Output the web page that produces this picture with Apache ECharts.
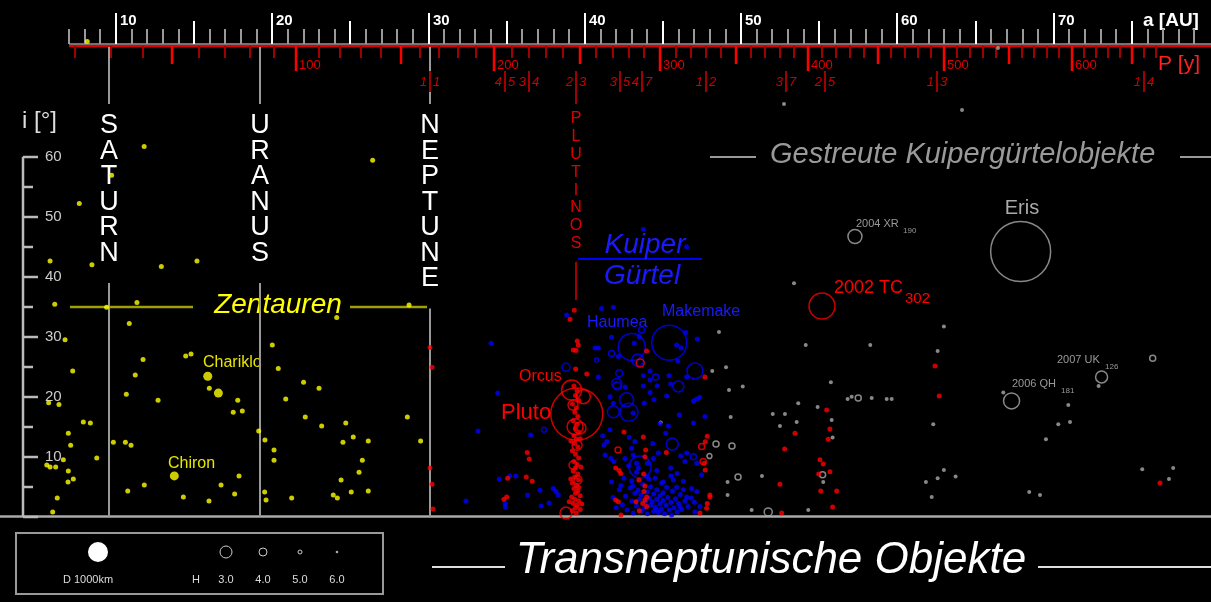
<!DOCTYPE html>
<html>
<head>
<meta charset="utf-8">
<title>Transneptunische Objekte</title>
<script src="https://cdn.jsdelivr.net/npm/echarts@6/dist/echarts.min.js"></script>
<style>
  html, body { margin: 0; padding: 0; background: #000; }
  #chart { width: 1211px; height: 602px; }
</style>
</head>
<body>
<div id="chart"></div>
<script>
// ---- Achsen ----
const aLabels = [10, 20, 30, 40, 50, 60, 70];
const periodLabels = [100, 200, 300, 400, 500, 600];
const iLabels = [10, 20, 30, 40, 50, 60];
const planets = [['SATURN', 9.54], ['URANUS', 19.19], ['NEPTUNE', 30.07]];
const aNeptune = 30.07;
// Bahnresonanzen mit Neptun  p|q
const resonances = [[1, 1], [4, 5], [3, 4], [2, 3], [3, 5], [4, 7], [1, 2], [3, 7], [2, 5], [1, 3], [1, 4]];

// ---- Objekte: [a (AE), i (Grad)] ----
const centaurs = [
  [11.8, 61.7], [26.42, 59.4], [9.72, 56.9], [7.65, 52.2], [5.78, 42.6], [8.46, 42.0], [12.9, 41.7], [15.18, 42.6],
  [6.08, 35.4], [9.40, 34.9], [11.34, 35.7], [24.12, 33.2], [28.75, 35.3], [10.85, 32.2], [6.74, 29.5], [20.0, 28.6],
  [14.46, 26.8], [14.8, 27.1], [11.73, 26.2], [20.38, 24.7], [7.23, 24.3], [11.23, 23.6], [15.97, 21.4], [22.0, 22.4],
  [22.99, 21.4], [10.66, 20.4], [20.86, 19.6], [12.69, 19.4], [5.69, 19.0], [6.35, 18.7], [17.79, 19.4], [17.5, 17.4],
  [18.08, 17.6], [22.11, 16.6], [28.64, 16.6], [23.16, 15.1], [7.91, 15.8], [8.36, 15.6], [24.7, 15.6], [19.13, 14.3],
  [6.95, 13.9], [25.18, 13.3], [9.83, 12.4], [10.6, 12.4], [10.96, 11.9], [24.52, 12.4], [26.14, 12.6], [29.49, 12.6],
  [7.10, 11.9], [19.53, 12.8], [20.11, 11.1], [8.77, 9.8], [20.11, 9.4], [6.63, 9.5], [5.57, 8.6], [5.78, 8.3],
  [6.14, 8.3], [25.76, 9.4], [25.55, 7.4], [6.95, 7.6], [6.93, 5.8], [7.27, 6.3], [17.87, 6.8], [16.72, 5.3],
  [11.81, 5.3], [10.75, 4.3], [24.4, 6.1], [25.05, 4.1], [26.14, 4.3], [17.59, 3.8], [19.51, 4.1], [19.6, 2.8],
  [14.31, 3.3], [15.95, 2.6], [21.24, 3.1], [23.9, 3.6], [24.16, 3.1], [6.24, 3.1], [5.95, 0.8], [8.16, 79.2]
];
const bigCentaurs = [[15.87, 23.4], [13.73, 6.8], [16.55, 20.6]];

const resonant = [
  [30.09, 28.2], [30.22, 24.9], [30.09, 8.1], [30.22, 5.4], [30.28, 1.3],
  [39.32, 34.4], [39.05, 32.9], [39.51, 29.3], [39.58, 28.6], [39.26, 27.8], [39.43, 27.7], [39.41, 24.6], [40.12, 23.8],
  [39.3, 21.8], [39.5, 21.0], [39.4, 20.2], [39.6, 19.4], [39.2, 18.8], [39.45, 18.1], [39.35, 17.4], [39.55, 16.7],
  [39.25, 16.0], [39.5, 15.4], [39.4, 14.7], [39.6, 14.1], [39.3, 13.5], [39.45, 12.9], [39.35, 12.2], [39.55, 11.6],
  [39.2, 11.0], [39.4, 10.4], [39.6, 9.8], [39.3, 9.2], [39.5, 8.7], [39.4, 8.1], [39.25, 7.6], [39.55, 7.1],
  [39.35, 6.6], [39.6, 6.1], [39.2, 5.6], [39.45, 5.2], [39.3, 4.7], [39.55, 4.3], [39.4, 3.9], [39.7, 3.5],
  [39.15, 3.3], [39.35, 2.9], [39.6, 2.6], [39.25, 2.2], [39.5, 1.9], [39.4, 1.5], [39.7, 1.2], [39.2, 1.0],
  [39.45, 0.6], [39.6, 4.9], [39.1, 6.3], [39.75, 8.3], [39.1, 12.6], [39.7, 13.0], [39.8, 2.1], [39.0, 2.5],
  [36.31, 10.7], [36.44, 9.6], [35.06, 6.4], [36.25, 6.6], [36.63, 5.9], [35.0, 3.3], [34.82, 2.9],
  [42.5, 14.1], [43.74, 13.3], [43.89, 11.1], [45.21, 10.7], [43.84, 10.0], [41.97, 8.1], [42.18, 7.7], [42.29, 7.2],
  [43.46, 6.1], [43.76, 7.1], [43.84, 5.1], [43.78, 4.2], [43.95, 3.3], [43.84, 2.8], [43.7, 2.2], [43.95, 1.7],
  [41.97, 2.8], [43.27, 2.5], [42.31, 0.3], [43.48, 1.0], [42.14, 2.5],
  [47.83, 13.4], [47.7, 12.5], [47.64, 8.9], [47.7, 7.8], [48.0, 3.3], [47.83, 2.2], [47.36, 0.6], [48.0, 3.6], [47.79, 1.4],
  [43.95, 27.6], [47.68, 23.3], [62.4, 25.1], [62.67, 20.1],
  [55.47, 17.8], [55.68, 14.6], [55.57, 12.9], [53.44, 13.9], [52.78, 11.3], [55.04, 9.5], [55.25, 8.8], [55.68, 7.5],
  [54.96, 7.1], [52.48, 5.4], [55.09, 4.3], [56.11, 4.3], [55.85, 1.6], [52.59, 0.6], [76.8, 5.6]
];
// [a, i, Durchmesser km]
const resonantBig = [
  [39.48, 17.1, 2600], [39.15, 21.1, 1000], [39.9, 20.0, 700], [39.37, 15.0, 800], [39.69, 14.8, 600],
  [39.24, 18.6, 500], [39.5, 11.9, 500], [39.24, 8.6, 400], [38.79, 0.6, 600], [39.56, 6.1, 400],
  [42.12, 11.1, 300], [47.47, 11.7, 300], [47.57, 9.2, 300], [43.54, 25.6, 400], [55.17, 35.1, 1300]
];

const classical = [
  [34.42, 20.6], [33.16, 14.3], [36.53, 13.6], [34.52, 6.3], [35.19, 6.8], [35.59, 6.8], [32.39, 2.6], [34.9, 2.2],
  [34.91, 1.6], [36.34, 3.6], [37.13, 4.4], [37.98, 4.7], [38.15, 4.2], [38.3, 3.6], [37.71, 2.3], [37.21, 1.8],
  [33.99, 28.9], [38.84, 33.6], [41.07, 34.7], [41.82, 34.9], [43.74, 47.9], [46.51, 45.0], [41.71, 29.9],
  [40.65, 28.1], [40.86, 28.1], [43.16, 28.9], [43.48, 30.0], [46.45, 30.7], [47.19, 29.6], [45.87, 28.6], [46.15, 28.1],
  [45.94, 26.0], [40.86, 23.3], [42.14, 26.7], [43.74, 23.5], [44.17, 24.3], [44.17, 22.8], [45.38, 23.5], [45.49, 22.1],
  [43.74, 21.8], [44.63, 21.8], [42.57, 21.6], [44.17, 20.7], [45.23, 20.1], [44.42, 19.5], [46.51, 23.3], [47.15, 19.6],
  [46.95, 19.3], [47.35, 19.9], [41.61, 20.0], [43.8, 18.9], [43.08, 17.3], [41.82, 18.9],
  [41.61, 14.5], [41.14, 13.5], [41.4, 12.5], [41.22, 12.0], [42.84, 13.2], [43.2, 12.5], [42.99, 11.4], [44.34, 12.2],
  [44.7, 10.6], [44.38, 9.7], [44.81, 15.5], [45.34, 15.1], [45.17, 13.9], [46.04, 17.0], [46.94, 15.6], [47.68, 16.7],
  [46.13, 10.1], [46.51, 10.6], [45.49, 8.1], [46.4, 9.2], [47.15, 8.9], [47.47, 7.0], [41.29, 10.3], [41.67, 9.7],
  [41.86, 9.2], [42.57, 9.7], [43.1, 10.3], [43.31, 8.9], [43.42, 8.1], [41.71, 5.8], [42.5, 6.4], [43.06, 5.1],
  [43.95, 6.7], [44.49, 6.4], [45.02, 5.8], [45.66, 6.1], [45.23, 4.9], [45.87, 4.9], [46.3, 4.5], [46.83, 4.7],
  [47.15, 4.2], [46.51, 3.3], [47.36, 1.7], [47.04, 0.8], [46.08, 1.7], [45.55, 0.3], [44.59, 1.1],
  [42.2, 4.5], [42.4, 2.0], [42.6, 3.4], [42.7, 1.1], [42.9, 4.8], [43.0, 2.6], [43.1, 0.6], [43.2, 3.9],
  [43.3, 1.8], [43.4, 4.4], [43.5, 2.9], [43.6, 0.9], [43.6, 3.6], [43.7, 5.4], [43.8, 1.4], [43.9, 2.6],
  [44.0, 4.1], [44.0, 0.5], [44.1, 3.1], [44.2, 1.9], [44.2, 5.0], [44.3, 2.5], [44.4, 0.9], [44.4, 3.8],
  [44.5, 1.6], [44.6, 4.5], [44.6, 2.9], [44.7, 0.7], [44.8, 2.1], [44.8, 3.5], [44.9, 1.3], [45.0, 4.0],
  [45.0, 2.7], [45.1, 0.5], [45.2, 1.9], [45.3, 3.2], [45.4, 1.1], [45.5, 2.4], [45.6, 4.3], [45.7, 1.5],
  [45.8, 3.0], [45.9, 0.8], [46.0, 2.2], [46.1, 3.7], [46.2, 1.2], [46.4, 2.6], [46.6, 1.7], [46.8, 3.1],
  [47.0, 2.4], [42.0, 1.5], [41.8, 3.2], [42.3, 5.2], [43.0, 6.0], [44.1, 6.3], [44.9, 5.6], [45.5, 6.8],
  [46.3, 5.9], [43.3, 7.4], [44.6, 7.7], [45.9, 7.2], [42.8, 8.5], [44.0, 8.9]
];
const classicalBig = [
  [43.0, 28.3, 1350], [45.4, 29.0, 1750], [47.04, 24.3, 800], [45.98, 21.7, 550], [43.38, 26.1, 600],
  [42.67, 19.5, 700], [42.82, 17.4, 900], [41.82, 17.5, 600], [42.04, 22.2, 500], [42.2, 23.9, 350],
  [45.59, 12.1, 600], [43.53, 8.3, 1100], [38.79, 24.9, 400], [37.38, 14.5, 250], [40.75, 26.1, 200],
  [41.71, 27.2, 300], [46.94, 10.0, 300], [43.63, 31.1, 300], [44.53, 23.3, 300], [42.07, 21.8, 400]
];

const scattered = [
  [53.38, 38.9], [48.58, 30.8], [54.13, 28.6], [58.26, 28.6], [62.97, 31.7], [62.57, 27.6], [49.03, 24.9], [48.15, 24.3],
  [49.22, 21.1], [50.1, 21.7], [55.74, 22.4], [53.65, 18.9], [54.89, 18.3], [52.02, 17.1], [52.8, 17.1], [53.55, 15.8],
  [52.48, 15.1], [55.79, 16.1], [55.85, 13.2], [49.33, 16.6], [56.81, 19.6], [57.07, 20.0], [58.35, 19.8], [59.31, 19.6],
  [59.63, 19.6], [62.29, 15.4], [70.93, 18.6], [71.04, 15.8], [70.29, 15.4], [69.5, 12.9], [72.87, 21.8], [62.97, 7.8],
  [62.57, 6.4], [61.82, 5.8], [63.72, 6.7], [62.19, 3.3], [68.43, 4.1], [69.12, 3.6], [75.66, 7.9], [77.64, 8.1],
  [77.37, 6.3], [49.13, 5.8], [49.13, 3.6], [51.33, 6.8], [50.67, 1.1], [54.29, 1.1], [55.25, 5.8], [44.85, 15.7],
  [52.74, 68.8], [64.13, 67.8], [66.43, 78.1], [66.77, 20.7]
];
const scatteredBig = [
  [57.49, 19.8, 300], [55.21, 7.0, 300], [48.39, 12.1, 300], [49.41, 11.8, 300], [47.97, 10.1, 250],
  [49.8, 6.6, 300], [51.73, 0.8, 400], [57.28, 46.7, 700], [67.88, 44.2, 3000], [73.06, 23.3, 600],
  [67.3, 19.3, 800], [76.33, 26.4, 300]
];

// ---- Darstellung ----
const KM_TO_PX = 0.02;
const FONT = 'Liberation Sans, Arial, sans-serif';
const RED = '#ff0000', BLUE = '#0000ff', GREY = '#aaaaaa', YELLOW = '#ffff00';

const aTicks = [];
for (let a = 7; a <= 79; a++) aTicks.push([a, 0]);
const pTicks = [];
for (let p = 20; p <= 670; p += 10) pTicks.push([Math.pow(p, 2 / 3), p]);
const iTicks = [];
for (let i = 0; i <= 60; i += 5) iTicks.push([0, i]);

function txt(text, x, y, fill, font, align, vAlign) {
  return { type: 'text', x: x, y: y, style: { text: text, fill: fill, font: font,
    align: align || 'left', textAlign: align || 'left', verticalAlign: vAlign || 'middle', textVerticalAlign: vAlign || 'middle' } };
}
function ln(x1, y1, x2, y2, stroke, w) {
  return { type: 'line', shape: { x1: x1, y1: y1, x2: x2, y2: y2 }, style: { stroke: stroke, lineWidth: w } };
}

function renderFrame(params, api) {
  const x0 = api.coord([api.value(0), 0])[0];
  const yTop = api.coord([0, api.value(1)])[1];
  const yBot = api.coord([0, 0])[1];
  const w = api.getWidth();
  return { type: 'group', children: [
    ln(x0, 46, w, 46, '#e00000', 2.5),
    ln(x0, 44, w, 44, '#999', 1.5),
    ln(23, yTop, 23, yBot, '#bbb', 2.5),
    txt('a [AU]', 1143, 21, '#fff', 'bold 19px ' + FONT),
    txt('P [y]', 1158, 64, '#ff2020', '21px ' + FONT),
    txt('i [°]', 22, 121, '#ddd', '24px ' + FONT)
  ] };
}

function renderATick(params, api) {
  const a = api.value(0);
  const x = Math.round(api.coord([a, 0])[0]);
  const major = a % 10 === 0, mid = a % 5 === 0;
  const len = major ? 31 : (mid ? 23 : 15);
  const kids = [ln(x, 44, x, 44 - len, mid ? '#fff' : '#999', 2)];
  if (major) kids.push(txt(String(a), x + 4, 21, '#fff', 'bold 15px ' + FONT));
  return { type: 'group', children: kids };
}

function renderPTick(params, api) {
  const p = api.value(1);
  const x = Math.round(api.coord([api.value(0), 0])[0]);
  const big = p % 100 === 0, mid = p % 50 === 0;
  const len = big ? 25 : (mid ? 18 : 12);
  const kids = [ln(x, 46, x, 46 + len, mid ? '#ff0000' : '#a00000', mid ? 2.5 : 2)];
  if (big && periodLabels.indexOf(p) >= 0) kids.push(txt(String(p), x + 3, 65, '#e00000', '13px ' + FONT));
  return { type: 'group', children: kids };
}

function renderITick(params, api) {
  const i = api.value(1);
  const y = Math.round(api.coord([0, i])[1]);
  const major = i % 10 === 0;
  const kids = [ln(23, y, major ? 38 : 33, y, '#bbb', 2.5)];
  if (major && iLabels.indexOf(i) >= 0) kids.push(txt(String(i), 45, y, '#ccc', '15px ' + FONT));
  return { type: 'group', children: kids };
}

function renderPlanet(params, api) {
  const p = planets[params.dataIndex];
  const x = Math.round(api.coord([p[1], 0])[0]);
  const yBot = api.coord([0, 0])[1];
  const name = p[0];
  const textEnd = 115 + name.length * 25.5;
  return { type: 'group', children: [
    ln(x, 47, x, 104, '#999', 2),
    { type: 'text', x: x, y: 113, style: { text: name.split('').join('\n'), fill: '#fff', font: '27px ' + FONT,
      lineHeight: 25.5, align: 'center', textAlign: 'center', verticalAlign: 'top', textVerticalAlign: 'top' } },
    ln(x, textEnd + 15, x, yBot, '#999', 2)
  ] };
}

function renderResonance(params, api) {
  const r = resonances[params.dataIndex];
  const x = Math.round(api.coord([api.value(0), 0])[0]);
  const plutino = r[0] === 2 && r[1] === 3;
  const kids = [
    ln(x, 71, x, plutino ? 104 : 92, '#a00000', 2),
    txt(String(r[0]), x - 3, 82, '#cc0000', 'italic 13px ' + FONT, 'right'),
    txt(String(r[1]), x + 3, 82, '#cc0000', 'italic 13px ' + FONT, 'left')
  ];
  if (plutino) {
    kids.push({ type: 'text', x: x, y: 110, style: { text: 'PLUTINOS'.split('').join('\n'), fill: '#e00000',
      font: '16px ' + FONT, lineHeight: 17.8, align: 'center', textAlign: 'center', verticalAlign: 'top', textVerticalAlign: 'top' } });
    kids.push(ln(x, 262, x, 300, '#a00000', 2));
  }
  return { type: 'group', children: kids };
}

function dots(name, data, color, size) {
  return { name: name, type: 'scatter', data: data, symbolSize: size, silent: true,
    itemStyle: { color: color }, animation: false };
}
function rings(name, data, color) {
  return { name: name, type: 'scatter', data: data, silent: true, animation: false,
    symbolSize: function (v) { return v[2] * KM_TO_PX; },
    itemStyle: { color: 'rgba(0,0,0,0)', borderColor: color, borderWidth: 1.5 } };
}

const chart = echarts.init(document.getElementById('chart'));
chart.setOption({
  backgroundColor: '#000',
  animation: false,
  grid: { left: 0, right: 0, top: 0, bottom: 85.3 },
  xAxis: { type: 'value', min: 2.578, max: 80.06, splitLine: { show: false },
    axisLabel: { show: false }, axisTick: { show: false },
    axisLine: { show: true, lineStyle: { color: '#aaa', width: 2.5 } } },
  yAxis: { type: 'value', min: 0, max: 86.12, show: false },
  graphic: [
    // Zentauren
    ln(70, 307, 193, 307, '#a0a000', 2.5), ln(350, 307, 427, 307, '#a0a000', 2.5),
    txt('Zentauren', 278, 305, YELLOW, 'italic 28px ' + FONT, 'center'),
    txt('Chariklo', 203, 363, '#e6e600', '16px ' + FONT),
    txt('Chiron', 168, 464, '#e6e600', '16px ' + FONT),
    // Kuiper-Gürtel
    ln(578, 259, 702, 259, BLUE, 2),
    txt('Kuiper', 645, 245, '#1a1aff', 'italic 28px ' + FONT, 'center'),
    txt('Gürtel', 642, 276, '#1a1aff', 'italic 28px ' + FONT, 'center'),
    txt('Haumea', 587, 323, '#1a1aff', '16px ' + FONT),
    txt('Makemake', 662, 312, '#1a1aff', '16px ' + FONT),
    txt('Orcus', 519, 377, RED, '16px ' + FONT),
    txt('Pluto', 501, 413, RED, '22px ' + FONT),
    txt('2002 TC', 834, 288, RED, '18px ' + FONT),
    txt('302', 905, 299, RED, '15px ' + FONT),
    // Gestreute
    ln(710, 157, 756, 157, '#999', 2), ln(1180, 157, 1211, 157, '#999', 2),
    txt('Gestreute Kuipergürtelobjekte', 770, 155, '#999', 'italic 29px ' + FONT),
    txt('Eris', 1022, 208, '#aaa', '20px ' + FONT, 'center'),
    txt('2004 XR', 856, 224, '#999', '11px ' + FONT), txt('190', 903, 231, '#999', '8px ' + FONT),
    txt('2007 UK', 1057, 360, '#999', '11px ' + FONT), txt('126', 1105, 367, '#999', '8px ' + FONT),
    txt('2006 QH', 1012, 384, '#999', '11px ' + FONT), txt('181', 1061, 391, '#999', '8px ' + FONT),
    // Legende
    { type: 'rect', shape: { x: 16, y: 533, width: 367, height: 61 }, style: { fill: '#000', stroke: '#999', lineWidth: 2 } },
    { type: 'circle', shape: { cx: 98, cy: 552, r: 1000 * KM_TO_PX / 2 }, style: { fill: '#fff' } },
    txt('D 1000km', 88, 580, '#ddd', '11px ' + FONT, 'center'),
    txt('H', 196, 580, '#ddd', '11px ' + FONT, 'center'),
    txt('3.0', 226, 580, '#ddd', '11px ' + FONT, 'center'),
    txt('4.0', 263, 580, '#ddd', '11px ' + FONT, 'center'),
    txt('5.0', 300, 580, '#ddd', '11px ' + FONT, 'center'),
    txt('6.0', 337, 580, '#ddd', '11px ' + FONT, 'center'),
    { type: 'circle', shape: { cx: 226, cy: 552, r: 6 }, style: { fill: 'none', stroke: '#ccc', lineWidth: 1 } },
    { type: 'circle', shape: { cx: 263, cy: 552, r: 4 }, style: { fill: 'none', stroke: '#ccc', lineWidth: 1 } },
    { type: 'circle', shape: { cx: 300, cy: 552, r: 2 }, style: { fill: 'none', stroke: '#ccc', lineWidth: 1 } },
    { type: 'circle', shape: { cx: 337, cy: 552, r: 1.3 }, style: { fill: '#aaa' } },
    // Titel
    ln(432, 567, 505, 567, '#ddd', 2), ln(1038, 567, 1211, 567, '#ddd', 2),
    txt('Transneptunische Objekte', 771, 561, '#fff', 'italic 44px ' + FONT, 'center')
  ],
  series: [
    { type: 'custom', data: [[7, 60]], renderItem: renderFrame, silent: true },
    { type: 'custom', data: aTicks, renderItem: renderATick, silent: true },
    { type: 'custom', data: pTicks, renderItem: renderPTick, silent: true },
    { type: 'custom', data: iTicks, renderItem: renderITick, silent: true },
    { type: 'custom', data: planets.map(function (p) { return [p[1], 0]; }), renderItem: renderPlanet, silent: true },
    { type: 'custom', data: resonances.map(function (r) { return [aNeptune * Math.pow(r[1] / r[0], 2 / 3), 0]; }),
      renderItem: renderResonance, silent: true },
    dots('Gestreut', scattered, GREY, 4),
    rings('Gestreut groß', scatteredBig, GREY),
    dots('Klassisch', classical, BLUE, 5),
    rings('Klassisch groß', classicalBig, BLUE),
    dots('Resonant', resonant, RED, 5),
    rings('Resonant groß', resonantBig, RED),
    dots('Zentauren', centaurs, YELLOW, 5),
    dots('Zentauren groß', bigCentaurs, YELLOW, 9)
  ]
});
</script>
</body>
</html>
